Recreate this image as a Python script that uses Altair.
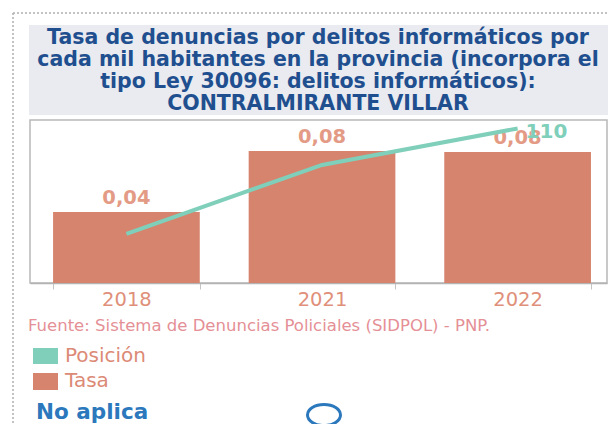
import altair as alt
import pandas as pd

years = ["2018", "2021", "2022"]
tasa = [0.0436, 0.081, 0.0804]
tasa_labels = ["0,04", "0,08", "0,08"]
posicion = [35, 84, 110]
title_lines = [
    "Tasa de denuncias por delitos informáticos por",
    "cada mil habitantes en la provincia (incorpora el",
    "tipo Ley 30096: delitos informáticos):",
    "CONTRALMIRANTE VILLAR",
]
legend_labels = ["Posición", "Tasa"]
source_text = "Fuente: Sistema de Denuncias Policiales (SIDPOL) - PNP."
slicer_text = "No aplica"

SALMON = "#d6846d"
TEAL = "#7fcfba"
BLUE = "#2c78bd"

df = pd.DataFrame({"year": years, "tasa": tasa, "label": tasa_labels, "posicion": posicion})
one = pd.DataFrame({"k": [0]})

W, H = 577, 163

x_enc = alt.X(
    "year:N", sort=years,
    scale=alt.Scale(paddingInner=0.25, paddingOuter=0.1, align=0.59),
    axis=alt.Axis(title=None, labelAngle=0, labelFont="DejaVu Sans", labelFontSize=19.5,
                  labelColor="#e0907a", domainColor="#b3b3b3", domainWidth=1.5,
                  tickColor="#c4c4c4", tickSize=6, tickBand="extent", labelPadding=1,
                  grid=False),
)
y_tasa = alt.Y("tasa:Q", scale=alt.Scale(domain=[0, 0.1], nice=False), axis=None)
y_pos = alt.Y("posicion:Q", scale=alt.Scale(domain=[0, 116], nice=False), axis=None)

title_box = alt.Chart(one).mark_rect(color="#e9ebf0").encode(
    x=alt.value(-1), x2=alt.value(578), y=alt.value(-95), y2=alt.value(-5))
title = alt.Chart(one).mark_text(
    font="DejaVu Sans", fontWeight="bold", fontSize=20.5, color="#1f4f8f",
    align="center", baseline="alphabetic", lineHeight=22,
).encode(x=alt.value(288), y=alt.value(-76.5), text=alt.value(title_lines))

dot_top = alt.Chart(one).mark_rule(color="#b0b0b0", strokeWidth=1.5, strokeDash=[2, 2]).encode(
    x=alt.value(-17), x2=alt.value(578), y=alt.value(-107))
dot_left = alt.Chart(one).mark_rule(color="#b0b0b0", strokeWidth=1.5, strokeDash=[2, 2]).encode(
    x=alt.value(-17), y=alt.value(-107), y2=alt.value(310))

bars = alt.Chart(df).mark_bar(color=SALMON).encode(x=x_enc, y=y_tasa)
bar_labels = alt.Chart(df).mark_text(
    font="DejaVu Sans", fontWeight="bold", fontSize=19.5, color="#e49b86",
    baseline="alphabetic", dy=-8,
).encode(x=x_enc, y=y_tasa, text="label:N")

line = alt.Chart(df).mark_line(color=TEAL, strokeWidth=4).encode(x=x_enc, y=y_pos)
line_label = alt.Chart(df).transform_filter(alt.datum.year == "2022").mark_text(
    font="DejaVu Sans", fontWeight="bold", fontSize=20, color=TEAL,
    align="left", baseline="middle", dx=8, dy=4,
).encode(x=x_enc, y=y_pos, text="posicion:Q")

source = alt.Chart(one).mark_text(
    font="DejaVu Sans", fontSize=16.5, color="#e58f96", align="left", baseline="alphabetic",
).encode(x=alt.value(-2), y=alt.value(211), text=alt.value(source_text))

leg_pos_sq = alt.Chart(one).mark_rect(color=TEAL).encode(
    x=alt.value(3), x2=alt.value(28), y=alt.value(228), y2=alt.value(244))
leg_tasa_sq = alt.Chart(one).mark_rect(color=SALMON).encode(
    x=alt.value(3), x2=alt.value(28), y=alt.value(253), y2=alt.value(270))
leg_pos_tx = alt.Chart(one).mark_text(
    font="DejaVu Sans", fontSize=20, color="#dc8a76", align="left", baseline="alphabetic",
).encode(x=alt.value(35), y=alt.value(242), text=alt.value(legend_labels[0]))
leg_tasa_tx = alt.Chart(one).mark_text(
    font="DejaVu Sans", fontSize=20, color="#dc8a76", align="left", baseline="alphabetic",
).encode(x=alt.value(35), y=alt.value(267), text=alt.value(legend_labels[1]))

slicer = alt.Chart(one).mark_text(
    font="DejaVu Sans", fontWeight="bold", fontSize=21.5, color=BLUE, align="left",
    baseline="alphabetic",
).encode(x=alt.value(6), y=alt.value(299), text=alt.value(slicer_text))
ring = alt.Chart(one).mark_point(
    shape="M-1,0A1,0.64,0,1,0,1,0A1,0.64,0,1,0,-1,0Z", filled=False, size=1089,
    strokeWidth=3, color=BLUE, opacity=1,
).encode(x=alt.value(294), y=alt.value(295))

chart = alt.layer(
    title_box, title, dot_top, dot_left, bars, bar_labels, line, line_label,
    source, leg_pos_sq, leg_tasa_sq, leg_pos_tx, leg_tasa_tx, slicer, ring,
).properties(
    width=W, height=H,
    autosize=alt.AutoSizeParams(type="none"),
    padding={"left": 22, "top": 112, "right": 1, "bottom": 141},
).resolve_scale(y="independent").configure_view(stroke="#b8b8b8", strokeWidth=1.5)

chart.save("out.html", embed_options={"renderer": "svg", "actions": False})
